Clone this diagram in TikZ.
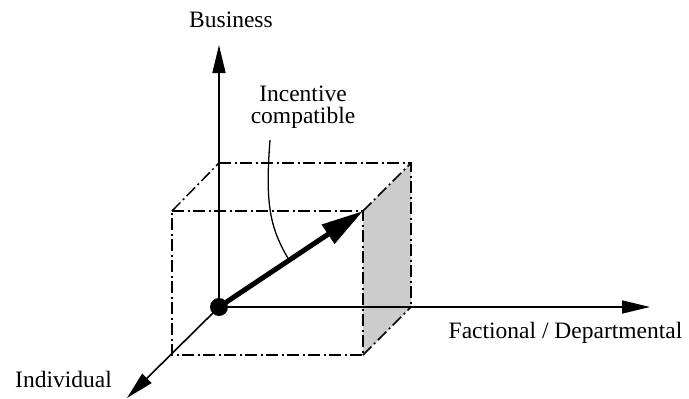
\documentclass[tikz,border=0pt]{standalone}
\usepackage{fontspec}
\setmainfont{Liberation Serif}
\usetikzlibrary{arrows.meta}
\begin{document}
\begin{tikzpicture}[x=1pt,y=-1pt,
  hidden/.style={line width=1.5pt,dash pattern=on 12pt off 3.5pt on 2pt off 3.5pt},
  axis/.style={line width=1.6pt,-{Triangle[length=28pt,width=13pt]}},
  lbl/.style={font=\fontsize{23.5}{22}\selectfont,inner sep=0pt,anchor=base}]
\useasboundingbox (0,0) rectangle (689,399);
% cube corners
\coordinate (O) at (219,307);
\coordinate (BTL) at (219,163);
\coordinate (BTR) at (411,163);
\coordinate (BBR) at (411,307);
\coordinate (FTL) at (172,211);
\coordinate (FTR) at (363,211);
\coordinate (FBL) at (172,355);
\coordinate (FBR) at (363,355);
% shaded face
\fill[black!20] (FTR) -- (BTR) -- (BBR) -- (FBR) -- cycle;
% hidden edges
\draw[hidden] (BTL) -- (BTR) -- (BBR);
\draw[hidden] (FTL) -- (FTR) -- (FBR) -- (FBL) -- cycle;
\draw[hidden] (FTL) -- (BTL);
\draw[hidden] (FTR) -- (BTR);
\draw[hidden] (FBR) -- (BBR);
% axes
\coordinate (Ytip) at (219,45);
\coordinate (Xtip) at (650,307);
\coordinate (Ztip) at (127,398);
\draw[axis] (O) -- (Ytip);
\draw[axis] (O) -- (Xtip);
\draw[axis] (O) -- (Ztip);
% labels
\node[lbl] (business) at (231,27) {Business};
\node[lbl] (fact) at (565.5,338) {Factional / Departmental};
\node[lbl] (indiv) at (63.5,387) {Individual};
\node[lbl] (inc1) at (303,101) {Incentive};
\node[lbl] (inc2) at (303,123) {compatible};
% curve
\coordinate (cs) at (270,140);
\coordinate (ce) at (289,260);
\draw[line width=1.3pt] (cs) .. controls (265,205) and (270,228) .. (ce);
% thick arrow
\draw[line width=5pt,-{Triangle[length=42pt,width=22pt]}] (O) -- (FTR);
\fill (O) circle (9);
\end{tikzpicture}
\end{document}
